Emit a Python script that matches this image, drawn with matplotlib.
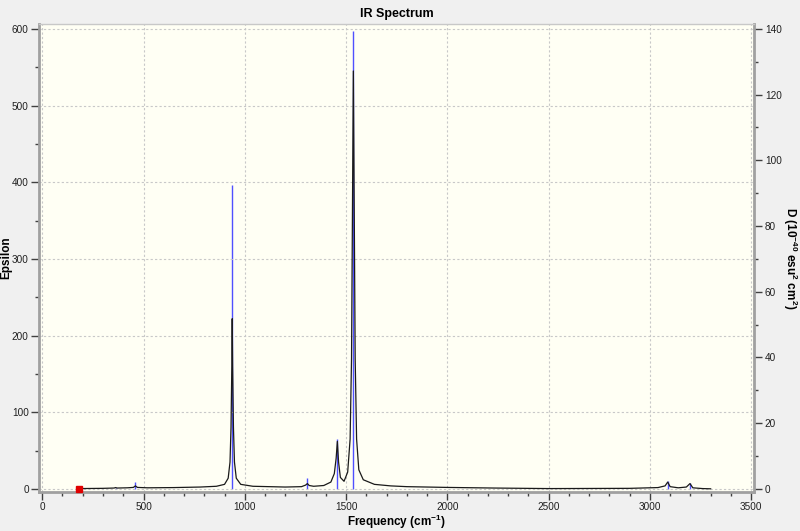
import matplotlib
matplotlib.use("Agg")
import matplotlib.pyplot as plt
from matplotlib.ticker import MultipleLocator

# broadened spectrum (black line, left axis)
freq = [183, 300, 355, 362, 370, 420, 450, 460, 470, 520, 650, 780, 860, 900,
        918, 927, 932, 936, 938, 940, 944, 949, 958, 980, 1040, 1200, 1280,
        1300, 1309, 1318, 1340, 1390, 1425, 1442, 1451, 1457, 1463, 1472,
        1490, 1508, 1520, 1527, 1532, 1536, 1540, 1545, 1552, 1563, 1585,
        1640, 1720, 1800, 2000, 2230, 2500, 2900, 3040, 3075, 3088, 3100,
        3140, 3180, 3198, 3212, 3260, 3300]
epsilon = [0.5, 0.8, 1.2, 1.8, 1.2, 1.5, 2.0, 4.0, 2.0, 1.5, 1.8, 2.5, 3.5, 6.0,
           14, 35, 80, 160, 222, 160, 80, 35, 14, 6.0, 3.5, 2.5, 3.0,
           5.0, 7.0, 4.5, 3.5, 4.5, 9, 20, 40, 62, 35, 15,
           10, 22, 65, 170, 380, 545, 380, 170, 65, 25, 12,
           6, 4, 3.0, 2.0, 1.2, 0.5, 0.8, 1.8, 4.0, 9.0, 3.0,
           1.5, 2.5, 7.0, 1.5, 0.5, 0.2]

# stick intensities (blue, right axis D in 1e-40 esu^2 cm^2)
stick_freq = [362, 460, 938, 1309, 1457, 1536, 3088, 3198]
stick_d = [0.4, 2.1, 92.6, 3.3, 15.2, 139.3, 2.3, 1.8]

# red marker at the start of the trace
marker_freq = [183]
marker_eps = [0]

plt.rcParams['font.family'] = ['Liberation Sans', 'DejaVu Sans']
plt.rcParams['mathtext.default'] = 'regular'

fig = plt.figure(figsize=(8, 5.31), dpi=100, facecolor='#f0f0f0')
rect = [0.049, 0.0734, 0.894, 0.881]
ax = fig.add_axes(rect)
ax2 = ax.twinx()

# plot background drawn behind both axes, sticks sit under the black curve
fig.patches.append(plt.Rectangle(rect[:2], rect[2], rect[3],
                                 transform=fig.transFigure,
                                 facecolor='#fffff4', zorder=-10))
ax.patch.set_visible(False)
ax2.patch.set_visible(False)
ax2.set_zorder(ax.get_zorder() - 1)

ax2.vlines(stick_freq, 0, stick_d, color='#5050ff', linewidth=1.0, zorder=1)
ax.plot(freq, epsilon, color='#1a1a1a', linewidth=0.9, zorder=3)
ax.plot(marker_freq, marker_eps, 's', color='#e00000', markersize=4, zorder=4,
        clip_on=False)

ax.set_xlim(-15, 3516)
ax.set_ylim(-4, 606)
scale = 600 / 140
ax2.set_ylim(-4 / scale, 606 / scale)

ax.xaxis.set_major_locator(MultipleLocator(500))
ax.xaxis.set_minor_locator(MultipleLocator(100))
ax.yaxis.set_major_locator(MultipleLocator(100))
ax.yaxis.set_minor_locator(MultipleLocator(50))
ax2.yaxis.set_major_locator(MultipleLocator(20))
ax2.yaxis.set_minor_locator(MultipleLocator(10))

ax.grid(True, which='major', color='#c8c8c8', linestyle=(0, (2, 2)),
        linewidth=0.8)

for a in (ax, ax2):
    a.tick_params(which='major', direction='out', length=6, width=1,
                  color='#404040', labelsize=7.2, labelcolor='#202020', pad=1.5)
    a.tick_params(which='minor', direction='out', length=3, width=1,
                  color='#404040')

for name in ('left', 'bottom'):
    ax.spines[name].set_color('#a0a0a0')
    ax.spines[name].set_linewidth(2)
ax.spines['top'].set_color('#c8c8c8')
ax.spines['top'].set_linewidth(1)
ax.spines['right'].set_visible(False)
for name in ('left', 'bottom', 'top'):
    ax2.spines[name].set_visible(False)
ax2.spines['right'].set_color('#a0a0a0')
ax2.spines['right'].set_linewidth(2)

ax.set_title('IR Spectrum', fontsize=9, fontweight='bold', pad=5)
ax.set_xlabel('Frequency (cm$^{-1}$)', fontsize=8.5, fontweight='bold',
              va='center')
ax.set_ylabel('Epsilon', fontsize=8.5, fontweight='bold', va='center')
ax2.set_ylabel('D (10$^{-40}$ esu$^{2}$ cm$^{2}$)', fontsize=8.5,
               fontweight='bold', rotation=-90, va='center')
ax.xaxis.set_label_coords(0.5, -0.064)
ax.yaxis.set_label_coords(-0.046, 0.5)
ax2.yaxis.set_label_coords(1.05, 0.5)

fig.savefig('out.png', dpi=100, facecolor=fig.get_facecolor())
